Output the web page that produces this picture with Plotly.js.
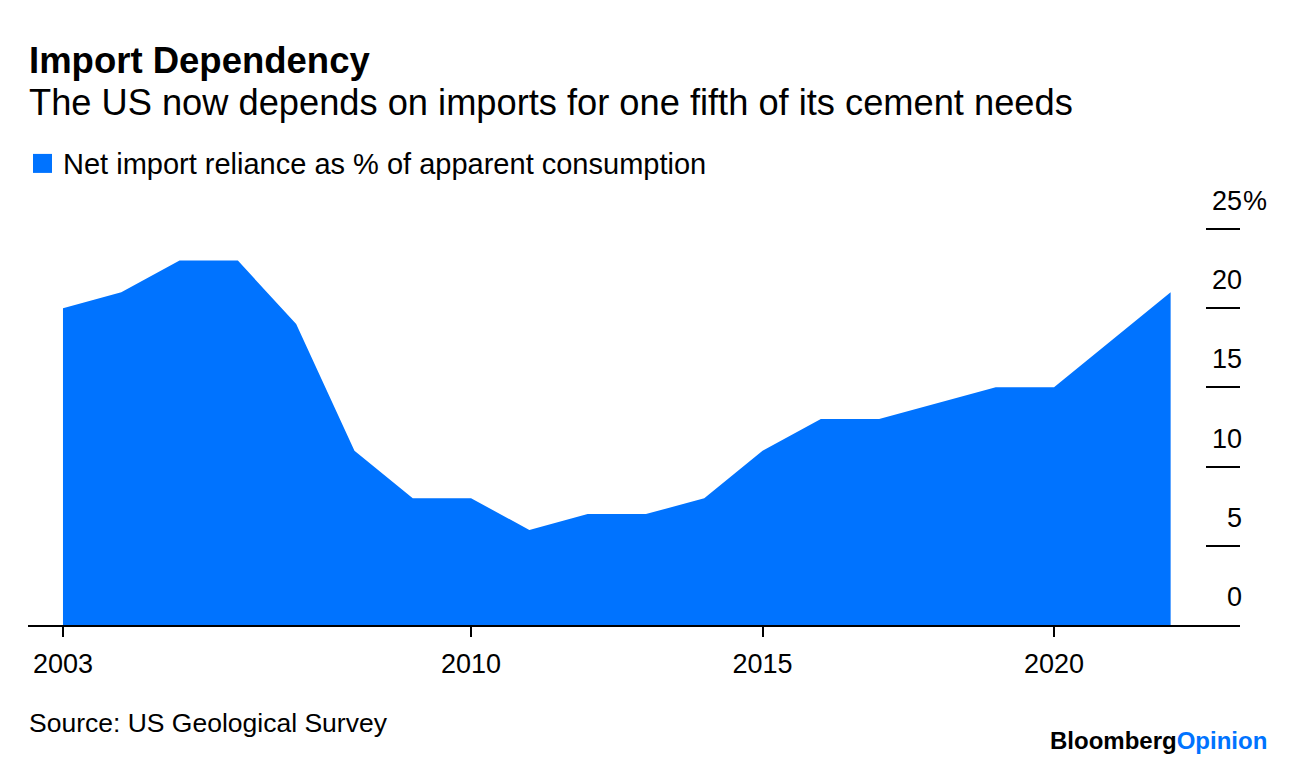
<!DOCTYPE html>
<html>
<head>
<meta charset="utf-8">
<script src="https://cdn.plot.ly/plotly-3.0.1.min.js"></script>
<style>
  html, body { margin: 0; padding: 0; background: #fff; }
  #chart { width: 1296px; height: 764px; }
</style>
</head>
<body>
<div id="chart"></div>
<script>
// ---- Data ----
const years = [2003, 2004, 2005, 2006, 2007, 2008, 2009, 2010, 2011, 2012,
               2013, 2014, 2015, 2016, 2017, 2018, 2019, 2020, 2021, 2022];
const netImportReliance = [20, 21, 23, 23, 19, 11, 8, 8, 6, 7,
                           7, 8, 11, 13, 13, 14, 15, 15, 18, 21];
const xTickYears = [2003, 2010, 2015, 2020];
const yTickValues = [0, 5, 10, 15, 20, 25];
const yTickLabels = ['0', '5', '10', '15', '20', '25'];

const titleText = 'Import Dependency';
const subtitleText = 'The US now depends on imports for one fifth of its cement needs';
const legendText = 'Net import reliance as % of apparent consumption';
const sourceText = 'Source: US Geological Survey';

// ---- Layout helpers ----
const W = 1296, H = 764;
const Y_MAX = 25.5;
const PX_PER_UNIT = 15.84;
const M = { l: 28, r: 56, t: 625 - Y_MAX * PX_PER_UNIT, b: 139 };
const PW = W - M.l - M.r, PH = H - M.t - M.b;
const px2x = px => (px - M.l) / PW;
const py2y = py => (H - M.b - py) / PH;

const FONT = '"Liberation Sans", Arial, Helvetica, sans-serif';
const BLUE = '#0073ff';

const annotations = [
  { text: '<b>' + titleText + '</b>', x: 0, y: py2y(61), xanchor: 'left', yanchor: 'middle',
    font: { size: 36.5, color: '#000' } },
  { text: subtitleText, x: 0, y: py2y(103), xanchor: 'left', yanchor: 'middle',
    font: { size: 36.25, color: '#000' } },
  { text: legendText, x: px2x(62), y: py2y(164), xanchor: 'left', yanchor: 'middle',
    font: { size: 29, color: '#000' } },
  { text: sourceText, x: 0, y: py2y(723), xanchor: 'left', yanchor: 'middle',
    font: { size: 26.5, color: '#000' } },
  { text: '<b>Bloomberg<span style="color:' + BLUE + '">Opinion</span></b>',
    x: px2x(1268), y: py2y(740), xanchor: 'right', yanchor: 'middle',
    font: { size: 24, color: '#000' } }
].map(a => Object.assign({ xref: 'paper', yref: 'paper', showarrow: false, borderpad: 0 }, a));

yTickValues.forEach((v, i) => {
  annotations.push({
    text: yTickLabels[i], xref: 'paper', yref: 'y', x: px2x(1243), y: v,
    xanchor: 'right', yanchor: 'middle', yshift: 28, showarrow: false, borderpad: 0,
    font: { size: 27, color: '#000' }
  });
  if (i === yTickValues.length - 1) {
    annotations.push({
      text: '%', xref: 'paper', yref: 'y', x: px2x(1242), y: v,
      xanchor: 'left', yanchor: 'middle', yshift: 28, showarrow: false, borderpad: 0,
      font: { size: 27, color: '#000' }
    });
  }
});

const shapes = [
  { type: 'rect', xref: 'paper', yref: 'paper',
    x0: px2x(33), x1: px2x(52), y0: py2y(173), y1: py2y(154),
    fillcolor: BLUE, line: { width: 0 } }
];

const trace = {
  type: 'scatter', mode: 'lines', x: years, y: netImportReliance,
  fill: 'tozeroy', fillcolor: BLUE, line: { color: BLUE, width: 0 },
  hoverinfo: 'x+y', showlegend: false
};

const layout = {
  width: W, height: H,
  margin: M,
  paper_bgcolor: '#fff', plot_bgcolor: '#fff',
  font: { family: FONT, color: '#000' },
  showlegend: false,
  xaxis: {
    range: [2002.4, 2023.19], tickvals: xTickYears, ticktext: xTickYears.map(String),
    ticks: 'outside', ticklen: 10, tickwidth: 2, tickcolor: '#000',
    ticklabelstandoff: 4,
    showline: true, linewidth: 2, linecolor: '#000', layer: 'below traces',
    showgrid: false, zeroline: false, tickfont: { size: 27, color: '#000' },
    fixedrange: true
  },
  yaxis: {
    range: [0, Y_MAX], side: 'right', tickvals: yTickValues,
    ticks: 'inside', ticklen: 34, tickwidth: 2, tickcolor: '#000',
    showticklabels: false, showgrid: false, zeroline: false, showline: false,
    fixedrange: true
  },
  annotations: annotations,
  shapes: shapes
};

Plotly.newPlot('chart', [trace], layout, { displayModeBar: false, staticPlot: true });
</script>
</body>
</html>
